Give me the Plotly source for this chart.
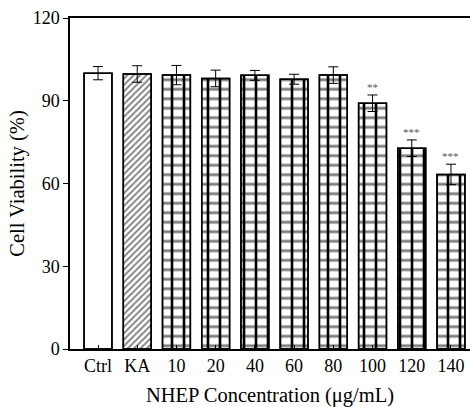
import plotly.graph_objects as go

categories = ["Ctrl", "KA", "10", "20", "40", "60", "80", "100", "120", "140"]
viability = [100.0, 99.7, 99.3, 98.1, 99.2, 97.8, 99.3, 89.1, 72.8, 63.3]
errors = [2.4, 3.0, 3.5, 3.0, 1.8, 1.8, 3.0, 3.0, 3.0, 3.7]
significance = ["", "", "", "", "", "", "", "**", "***", "***"]
fills = ["plain", "hatch", "brick", "brick", "brick", "brick", "brick", "brick", "brick", "brick"]

FONT = "Liberation Serif, Times New Roman, serif"

h_shape = ["" if f == "plain" else ("/" if f == "hatch" else "-") for f in fills]
h_size = [{"plain": 6, "hatch": 4.5, "brick": 9.5}[f] for f in fills]
h_sol = [{"plain": 0.2, "hatch": 0.4, "brick": 0.3}[f] for f in fills]
v_shape = ["|" if f == "brick" else "" for f in fills]

fig = go.Figure()
fig.add_trace(go.Bar(
    x=categories, y=viability, width=0.71,
    marker=dict(
        color="white",
        line=dict(color="black", width=1.5),
        pattern=dict(shape=h_shape, fgcolor="black", bgcolor="white",
                     size=h_size, solidity=h_sol),
    ),
    showlegend=False, hoverinfo="skip",
))
fig.add_trace(go.Bar(
    x=categories, y=viability, width=0.71,
    marker=dict(
        color="rgba(255,255,255,0.01)",
        line=dict(color="black", width=1.5),
        pattern=dict(shape=v_shape, fgcolor="black", bgcolor="rgba(255,255,255,0)",
                     fgopacity=1, size=12, solidity=0.22, fillmode="replace"),
    ),
    error_y=dict(type="data", array=errors, color="black", thickness=1, width=5),
    showlegend=False,
))

for i, (v, e, s) in enumerate(zip(viability, errors, significance)):
    if s:
        fig.add_annotation(x=i, y=v + e + 2.8, text=s, showarrow=False,
                           font=dict(family=FONT, size=11, color="#555"),
                           yanchor="middle")

fig.update_layout(
    width=470, height=407,
    margin=dict(l=70, r=0, t=18, b=58),
    paper_bgcolor="white", plot_bgcolor="white",
    font=dict(family=FONT, color="black"),
    barmode="overlay",
)
fig.update_xaxes(
    type="category",
    range=[-0.714, 9.485],
    showline=True, linecolor="black", linewidth=1.5, mirror=True,
    ticks="inside", ticklen=4, tickcolor="black",
    tickfont=dict(family=FONT, size=18),
    ticklabelstandoff=0,
    title=dict(text="NHEP Concentration (μg/mL)", font=dict(family=FONT, size=20.5), standoff=12),
    showgrid=False,
)
fig.update_yaxes(
    range=[0, 120],
    tickvals=[0, 30, 60, 90, 120],
    showline=True, linecolor="black", linewidth=1.5,
    ticks="outside", ticklen=5, tickcolor="black",
    tickfont=dict(family=FONT, size=18),
    title=dict(text="Cell Viability (%)", font=dict(family=FONT, size=20.5), standoff=2),
    showgrid=False, zeroline=False,
)

fig.write_html("out.html")
